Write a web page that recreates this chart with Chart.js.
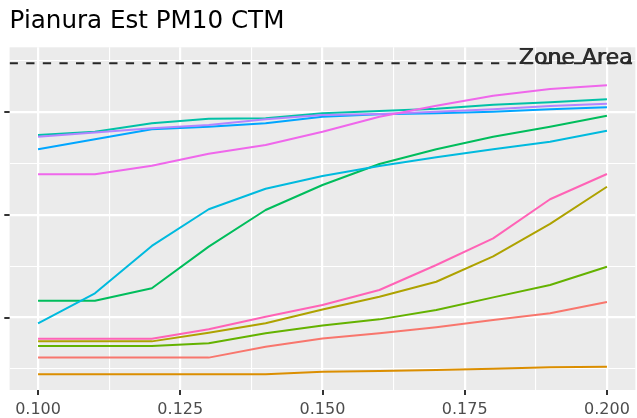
<!DOCTYPE html>
<html>
<head>
<meta charset="utf-8">
<script src="https://cdn.jsdelivr.net/npm/chart.js@4/dist/chart.umd.min.js"></script>
<style>
  html, body { margin: 0; padding: 0; background: #ffffff; }
  #wrap { width: 637px; height: 418px; position: relative; }
</style>
</head>
<body>
<div id="wrap"><canvas id="chart" width="637" height="418"></canvas></div>
<script>
// Threshold on the x axis and the resulting values, one array per run
const xValues = [0.10, 0.11, 0.12, 0.13, 0.14, 0.15, 0.16, 0.17, 0.18, 0.19, 0.20];

const series01 = [6.10, 6.10, 6.10, 6.10, 7.16, 7.96, 8.46, 9.05, 9.76, 10.41, 11.51];
const series02 = [4.47, 4.47, 4.47, 4.47, 4.47, 4.73, 4.80, 4.89, 5.02, 5.16, 5.21];
const series03 = [7.68, 7.68, 7.68, 8.52, 9.44, 10.78, 12.02, 13.48, 15.95, 19.10, 22.72];
const series04 = [7.23, 7.23, 7.23, 7.49, 8.46, 9.22, 9.82, 10.73, 11.96, 13.16, 14.94];
const series05 = [11.63, 11.63, 12.84, 16.89, 20.46, 22.89, 24.93, 26.36, 27.59, 28.56, 29.63];
const series06 = [27.75, 28.07, 28.89, 29.34, 29.38, 29.86, 30.09, 30.31, 30.70, 30.93, 31.23];
const series07 = [9.44, 12.35, 16.96, 20.53, 22.53, 23.76, 24.74, 25.58, 26.36, 27.10, 28.17];
const series08 = [26.36, 27.33, 28.31, 28.56, 28.89, 29.53, 29.77, 29.86, 30.02, 30.25, 30.45];
const series09 = [27.59, 28.00, 28.40, 28.73, 29.28, 29.70, 29.80, 30.02, 30.25, 30.57, 30.80];
const series10 = [23.93, 23.93, 24.77, 25.93, 26.78, 28.07, 29.53, 30.60, 31.58, 32.23, 32.59];
const series11 = [7.94, 7.94, 7.94, 8.85, 10.08, 11.22, 12.68, 15.11, 17.70, 21.50, 23.96];

// Reference level drawn as a dashed horizontal line
const zoneLimit = 34.73;
const zoneLabel = 'Zone Area';

// Axis breaks
const xTicks = [0.100, 0.125, 0.150, 0.175, 0.200];
const xTickLabels = ['0.100', '0.125', '0.150', '0.175', '0.200'];
const xMinor = [0.1125, 0.1375, 0.1625, 0.1875];
const yTicks = [10, 20, 30];
const yMinor = [5, 15, 25, 35];

const allSeries = [series01, series02, series03, series04, series05, series06,
                   series07, series08, series09, series10, series11];
const palette = ['#F8766D', '#DB8E00', '#AEA200', '#64B200', '#00BD5C', '#00C1A7',
                 '#00BADE', '#00A6FF', '#B385FF', '#EF67EB', '#FF63B6'];

const FONT = "'DejaVu Sans', 'Liberation Sans', sans-serif";

const lineSets = allSeries.map((s, i) => ({
  label: 'Serie ' + (i + 1),
  data: xValues.map((x, j) => ({ x: x, y: s[j] })),
  borderColor: palette[i],
  backgroundColor: palette[i],
  borderWidth: 2,
  pointRadius: 0,
  tension: 0,
  fill: false,
  borderJoinStyle: 'round',
  order: allSeries.length - i + 1
}));

const X_MIN = 0.095, X_MAX = 0.205;
const Y_MIN = 2.95, Y_MAX = 36.28;

lineSets.push({
  label: zoneLabel,
  data: [{ x: X_MIN, y: zoneLimit }, { x: X_MAX, y: zoneLimit }],
  borderColor: '#262626',
  borderWidth: 2.2,
  borderDash: [8.3, 8.3],
  borderCapStyle: 'butt',
  pointRadius: 0,
  fill: false,
  order: 0
});

const isMajorX = v => xTicks.some(t => Math.abs(t - v) < 1e-9);
const isMajorY = v => yTicks.some(t => Math.abs(t - v) < 1e-9);

// Grey panel behind the plot, tick marks, tick labels and the reference label
const panelDecor = {
  id: 'panelDecor',
  beforeDraw(chart) {
    const { ctx, chartArea: a } = chart;
    ctx.save();
    ctx.fillStyle = '#EBEBEB';
    ctx.fillRect(a.left, a.top, a.right - a.left, a.bottom - a.top);
    ctx.restore();
  },
  afterDraw(chart) {
    const { ctx, chartArea: a, scales } = chart;
    const xs = scales.x, ys = scales.y;
    ctx.save();
    ctx.strokeStyle = '#333333';
    ctx.lineWidth = 2;
    ctx.beginPath();
    xTicks.forEach(v => {
      const px = Math.round(xs.getPixelForValue(v));
      ctx.moveTo(px, a.bottom);
      ctx.lineTo(px, a.bottom + 5);
    });
    yTicks.forEach(v => {
      const py = Math.round(ys.getPixelForValue(v));
      ctx.moveTo(a.left - 5.3, py);
      ctx.lineTo(a.left, py);
    });
    ctx.stroke();

    ctx.fillStyle = '#4D4D4D';
    ctx.font = '16px ' + FONT;
    ctx.textAlign = 'center';
    ctx.textBaseline = 'alphabetic';
    xTicks.forEach((v, i) => {
      ctx.fillText(xTickLabels[i], xs.getPixelForValue(v), a.bottom + 23.5);
    });

    // label text is laid down twice, slightly offset, giving its heavier look
    ctx.fillStyle = '#2b2b2b';
    ctx.font = '22px ' + FONT;
    ctx.textAlign = 'right';
    const ly = ys.getPixelForValue(zoneLimit) + 1;
    ctx.fillText(zoneLabel, 632.2, ly);
    ctx.fillText(zoneLabel, 633, ly);
    ctx.restore();
  }
};

new Chart(document.getElementById('chart'), {
  type: 'line',
  data: { datasets: lineSets },
  options: {
    responsive: false,
    animation: false,
    devicePixelRatio: 1,
    layout: { padding: { left: 9.6, right: 1.6, top: 0, bottom: 28 } },
    plugins: {
      legend: { display: false },
      tooltip: { enabled: false },
      title: {
        display: true,
        text: 'Pianura Est PM10 CTM',
        align: 'start',
        color: '#000000',
        font: { family: FONT, size: 24.6, weight: 'normal', lineHeight: 1.2 },
        padding: { top: 7, bottom: 10.8 }
      }
    },
    scales: {
      x: {
        type: 'linear',
        min: X_MIN,
        max: X_MAX,
        afterBuildTicks(scale) {
          scale.ticks = xTicks.concat(xMinor).sort((p, q) => p - q).map(v => ({ value: v }));
        },
        ticks: { display: false },
        border: { display: false },
        grid: {
          drawTicks: false,
          color: '#FFFFFF',
          lineWidth: c => (c.tick && isMajorX(c.tick.value)) ? 2.2 : 1.1
        }
      },
      y: {
        type: 'linear',
        min: Y_MIN,
        max: Y_MAX,
        afterBuildTicks(scale) {
          scale.ticks = yTicks.concat(yMinor).sort((p, q) => p - q).map(v => ({ value: v }));
        },
        ticks: { display: false },
        border: { display: false },
        grid: {
          drawTicks: false,
          color: '#FFFFFF',
          lineWidth: c => (c.tick && isMajorY(c.tick.value)) ? 2.2 : 1.1
        }
      }
    }
  },
  plugins: [panelDecor]
});
</script>
</body>
</html>
